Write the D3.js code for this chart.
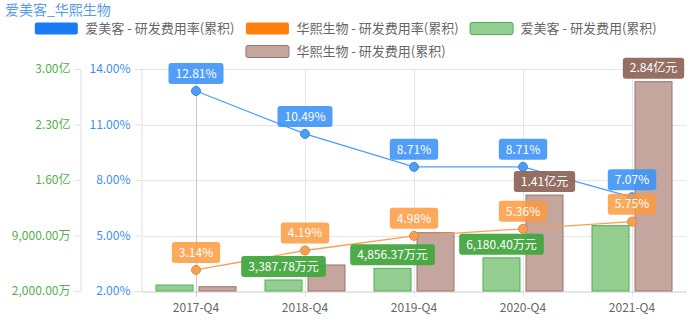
<!DOCTYPE html>
<html><head><meta charset="utf-8">
<script src="https://cdn.jsdelivr.net/npm/d3@7"></script>
<style>body{margin:0;background:#fff} text{font-family:"Noto Sans CJK SC","Noto Sans",sans-serif}</style>
</head><body><svg id="c" width="691" height="324"></svg>
<script>
const title = "爱美客_华熙生物";
const categories = ["2017-Q4","2018-Q4","2019-Q4","2020-Q4","2021-Q4"];
const aimeikeRate = [12.81,10.49,8.71,8.71,7.07];
const huaxiRate = [3.14,4.19,4.98,5.36,5.75];
const aimeikeCost = [2750,3387.78,4856.37,6180.40,10240]; // 万元
const huaxiCost = [2540,5280,9350,14100,28400];          // 万元
const rateTicks = [2,5,8,11,14];
const costTicks = [2000,9000,16000,23000,30000];
const seriesNames = ["爱美客 - 研发费用率(累积)","华熙生物 - 研发费用率(累积)","爱美客 - 研发费用(累积)","华熙生物 - 研发费用(累积)"];
const shownAimeikeCostLabels = [1,2,3];
const shownHuaxiCostLabels = [3,4];

const svg = d3.select("#c");
svg.append("rect").attr("width",691).attr("height",324).attr("fill","#fff");
const L = 141.5, R = 686.5, T = 69, B = 291;
const C = {
  blue:"#4a9ef8", blueLbl:"#3d94f6", orange:"#f8a04f", orangeLbl:"#fd9a3e",
  green:"#4caf50", greenFill:"#95ce91", greenLbl:"#43a640",
  brown:"#9a7468", brownFill:"#c4a69e", brownLbl:"#8d6357"
};
const x = d3.scaleBand().domain(categories).range([L,R]);
const inner = d3.scaleBand().domain(["a","h"]).range([-40.5,40.5]).paddingInner(5/43);
const yR = d3.scaleLinear().domain([2,14]).range([B,T]);
const yC = d3.scaleLinear().domain([2000,30000]).range([B,T]);
const cx = c => x(c) + x.bandwidth()/2;
const fmtCostAxis = v => v>=10000 ? (v/10000).toFixed(2)+"亿" : d3.format(",.2f")(v)+"万";
const fmtCostLbl = v => v>=10000 ? (v/10000).toFixed(2)+"亿元" : d3.format(",.2f")(v)+"万元";
const fmtRate = v => v.toFixed(2)+"%";

// title
svg.append("text").attr("x",5).attr("y",15).attr("font-size",14).attr("fill","#5a9be6").text(title);

// legend
const legendStyles = [
  {fill:"#1a7cf5", stroke:"none"},
  {fill:"#ff800e", stroke:"none"},
  {fill:C.greenFill, stroke:C.green},
  {fill:C.brownFill, stroke:C.brown}
];
const lg = svg.append("g");
const items = seriesNames.map((n,i)=>{
  const g = lg.append("g");
  g.append("rect").attr("x",0.5).attr("y",0.5).attr("width",43).attr("height",12).attr("rx",2)
    .attr("fill",legendStyles[i].fill).attr("stroke",legendStyles[i].stroke);
  const t = g.append("text").attr("x",51).attr("y",6.5).attr("dy","0.35em").attr("font-size",13).attr("fill","#666").text(n);
  return {g, w: 51 + t.node().getComputedTextLength()};
});
const rows = []; let cur = [], cw = 0; const gap = 11, maxW = 660;
items.forEach(it=>{
  const add = (cur.length? gap:0) + it.w;
  if (cw + add > maxW && cur.length){ rows.push({items:cur,w:cw}); cur=[]; cw=0; }
  cw += (cur.length? gap:0) + it.w; cur.push(it);
});
if (cur.length) rows.push({items:cur,w:cw});
rows.forEach((r,ri)=>{
  let xx = 345.5 - r.w/2;
  r.items.forEach(it=>{ it.g.attr("transform",`translate(${xx},${22+ri*23})`); xx += it.w + gap; });
});

// grid
svg.append("g").selectAll("line").data(rateTicks.slice(1)).join("line")
  .attr("x1",L).attr("x2",R).attr("y1",d=>Math.round(yR(d))+0.5).attr("y2",d=>Math.round(yR(d))+0.5)
  .attr("stroke","#e6e6e6");
svg.append("g").selectAll("line").data(categories).join("line")
  .attr("x1",d=>Math.round(cx(d))+0.5).attr("x2",d=>Math.round(cx(d))+0.5).attr("y1",T).attr("y2",B+6)
  .attr("stroke",(d,i)=>i===0?"#c8c8c8":"#e6e6e6");

// axes
const axC = svg.append("g").attr("transform",`translate(80.5,0)`)
  .call(d3.axisLeft(yC).tickValues(costTicks).tickFormat(fmtCostAxis).tickSize(6).tickPadding(4));
const axR = svg.append("g").attr("transform",`translate(141.5,0)`)
  .call(d3.axisLeft(yR).tickValues(rateTicks).tickFormat(fmtRate).tickSize(6).tickPadding(5));
[axC,axR].forEach(a=>{ a.select(".domain").attr("stroke","#e0e0e0"); a.selectAll(".tick line").attr("stroke","#e0e0e0");
  a.selectAll("text").attr("font-size",12).attr("font-family",null); });
axC.selectAll("text").attr("fill","#52b14e");
axR.selectAll("text").attr("fill","#3d8ef2");
const axX = svg.append("g").attr("transform",`translate(0,${B+0.5})`)
  .call(d3.axisBottom(x).tickSize(0).tickPadding(12));
axX.select(".domain").attr("stroke","#cccccc");
axX.selectAll("text").attr("font-size",12).attr("fill","#666").attr("font-family",null);

// bars
const bars = svg.append("g");
bars.selectAll(".ba").data(aimeikeCost).join("rect")
  .attr("x",(d,i)=>cx(categories[i])+inner("a")+0.5).attr("width",inner.bandwidth()-1)
  .attr("y",d=>yC(d)).attr("height",d=>B-yC(d))
  .attr("fill",C.greenFill).attr("stroke",C.green);
bars.selectAll(".bh").data(huaxiCost).join("rect")
  .attr("x",(d,i)=>cx(categories[i])+inner("h")+0.5).attr("width",inner.bandwidth()-1)
  .attr("y",d=>yC(d)).attr("height",d=>B-yC(d))
  .attr("fill",C.brownFill).attr("stroke",C.brown);

// lines
function drawLine(vals,col){
  svg.append("path").datum(vals)
    .attr("d",d3.line().x((d,i)=>cx(categories[i])).y(d=>yR(d)))
    .attr("fill","none").attr("stroke",col).attr("stroke-width",1.3);
  svg.append("g").selectAll("circle").data(vals).join("circle")
    .attr("cx",(d,i)=>cx(categories[i])).attr("cy",d=>yR(d)).attr("r",4.5)
    .attr("fill",col).attr("stroke",d3.color(col).darker(0.4)).attr("stroke-width",1);
}
drawLine(aimeikeRate,C.blue);
drawLine(huaxiRate,C.orange);

// labels
const lblG = svg.append("g");
function label(cxp, bottom, txt, fill, op){
  const g = lblG.append("g");
  const r = g.append("rect");
  const t = g.append("text").attr("x",cxp).attr("y",bottom-10.5).attr("dy","0.35em")
    .attr("text-anchor","middle").attr("font-size",12).attr("fill","#fff").text(txt);
  const w = t.node().getComputedTextLength() + 14;
  r.attr("x",cxp-w/2).attr("y",bottom-21).attr("width",w).attr("height",21).attr("rx",3)
    .attr("fill",fill).attr("opacity",op);
}
aimeikeCost.forEach((v,i)=>{ if(shownAimeikeCostLabels.includes(i))
  label(cx(categories[i])+inner("a")+inner.bandwidth()/2, yC(v)-3, fmtCostLbl(v), C.greenLbl, 0.95); });
huaxiCost.forEach((v,i)=>{ if(shownHuaxiCostLabels.includes(i))
  label(cx(categories[i])+inner("h")+inner.bandwidth()/2, yC(v)-3, fmtCostLbl(v), C.brownLbl, 0.92); });
aimeikeRate.forEach((v,i)=>label(cx(categories[i]), yR(v)-7, fmtRate(v), C.blueLbl, 0.9));
huaxiRate.forEach((v,i)=>label(cx(categories[i]), yR(v)-7, fmtRate(v), C.orangeLbl, 0.85));
</script></body></html>
